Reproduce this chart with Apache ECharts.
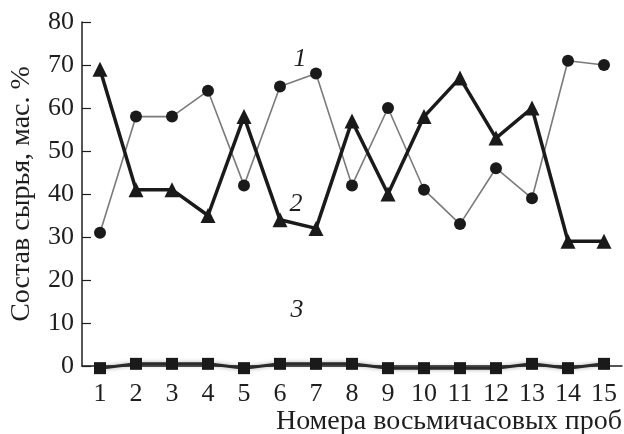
<!DOCTYPE html>
<html><head><meta charset="utf-8">
<script src="https://cdn.jsdelivr.net/npm/echarts@6/dist/echarts.min.js"></script>
<style>html,body{margin:0;padding:0;background:#fff}#c{width:624px;height:434px}</style>
</head><body><div id="c"></div>
<script>
const categories = ['1','2','3','4','5','6','7','8','9','10','11','12','13','14','15'];
const series1 = [31, 58, 58, 64, 42, 65, 68, 42, 60, 41, 33, 46, 39, 71, 70];
const series2 = [69, 41, 41, 35, 58, 34, 32, 57, 40, 58, 67, 53, 60, 29, 29];
const series3 = [-0.5, 0.5, 0.5, 0.5, -0.5, 0.5, 0.5, 0.5, -0.5, -0.5, -0.5, -0.5, 0.5, -0.5, 0.5];
const yTicks = [0, 10, 20, 30, 40, 50, 60, 70, 80];
const curveLabels = {s1: ['1', 6], s2: ['2', 5], s3: ['3', 5]};

const font = '"Liberation Serif"';
const ink = '#1e1e1e';
const fs = 26;
const nameFs = 28;

function withLabel(arr, lab, off) {
  return arr.map((v, i) => i === lab[1] ? {
    value: v,
    label: {show: true, formatter: lab[0], offset: off, fontFamily: font, fontStyle: 'italic', fontSize: 26, color: ink, position: 'inside'}
  } : v);
}

const chart = echarts.init(document.getElementById('c'));
chart.setOption({
  animation: false,
  grid: {left: 82, right: 2, top: 22, bottom: 68, containLabel: false, outerBoundsMode: 'none'},
  xAxis: {
    type: 'category', data: categories, boundaryGap: true,
    name: 'Номера восьмичасовых проб', nameLocation: 'end',
    nameGap: 0,
    nameTextStyle: {fontFamily: font, fontSize: nameFs, color: ink, align: 'right', verticalAlign: 'top', padding: [42, 0, 0, 0]},
    axisLine: {lineStyle: {color: ink, width: 1.5}},
    axisTick: {inside: true, length: 8, alignWithLabel: false, lineStyle: {color: ink, width: 1.2}},
    axisLabel: {fontFamily: font, fontSize: fs, color: ink, margin: 15},
    splitLine: {show: false}
  },
  yAxis: {
    type: 'value', min: yTicks[0], max: yTicks[yTicks.length - 1], interval: 10,
    name: 'Состав сырья, мас. %', nameLocation: 'middle', nameGap: 46, nameRotate: 90,
    nameTextStyle: {fontFamily: font, fontSize: nameFs, color: ink},
    axisLine: {show: true, lineStyle: {color: ink, width: 1.5}},
    axisTick: {show: true, inside: true, length: 9, lineStyle: {color: ink, width: 1.2}},
    axisLabel: {fontFamily: font, fontSize: fs, color: ink, margin: 8},
    splitLine: {show: false}
  },
  series: [
    {
      type: 'line', data: withLabel(series1, curveLabels.s1, [-16, -14]), clip: false,
      symbol: 'circle', symbolSize: 12,
      lineStyle: {color: '#7a7a7a', width: 1.6},
      itemStyle: {color: '#1a1a1a'}, z: 3
    },
    {
      type: 'line', data: withLabel(series2, curveLabels.s2, [16, -16]), clip: false,
      symbol: 'triangle', symbolSize: 15,
      lineStyle: {color: '#1a1a1a', width: 3.5},
      itemStyle: {color: '#1a1a1a'}, z: 4
    },
    {
      type: 'line', data: withLabel(series3, curveLabels.s3, [17, -54]), clip: false,
      symbol: 'rect', symbolSize: 12,
      lineStyle: {color: '#2a2a2a', width: 3, shadowColor: 'rgba(0,0,0,0.35)', shadowBlur: 4},
      itemStyle: {color: '#1a1a1a'}, z: 5
    }
  ]
});
</script></body></html>
